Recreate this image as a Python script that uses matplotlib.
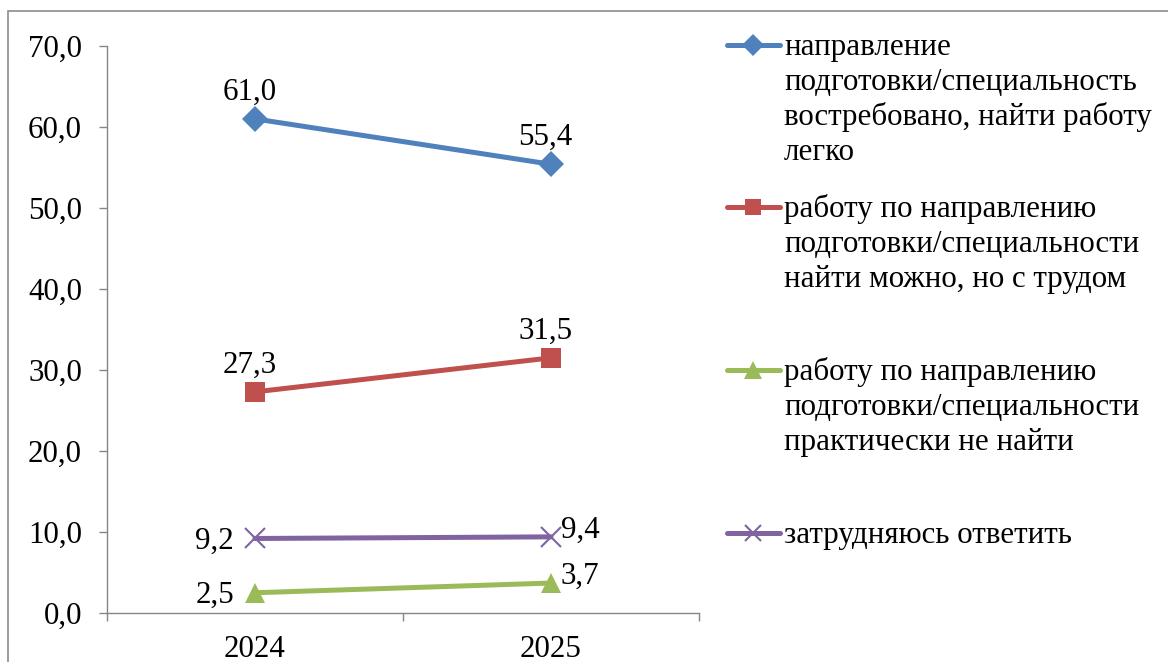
import matplotlib.pyplot as plt
from matplotlib.lines import Line2D
from matplotlib.patches import Rectangle
from matplotlib.ticker import FuncFormatter, FixedLocator

plt.rcParams['font.family'] = ['Liberation Serif', 'DejaVu Serif']

# Data
years = ['2024', '2025']
easy = [61.0, 55.4]
hard = [27.3, 31.5]
none_ = [2.5, 3.7]
dunno = [9.2, 9.4]
labels = [
    'направление\nподготовки/специальность\nвостребовано, найти работу\nлегко',
    'работу по направлению\nподготовки/специальности\nнайти можно, но с трудом',
    'работу по направлению\nподготовки/специальности\nпрактически не найти',
    'затрудняюсь ответить',
]

W, H = 1168, 662
fig = plt.figure(figsize=(W / 100, H / 100), dpi=100)
ax = fig.add_axes([107 / W, 1 - 613 / H, (699 - 107) / W, (613 - 46) / H])

fs = 22.3
series = [
    (easy, '#4F81BD', 'D', 13, 'above'),
    (hard, '#C0504D', 's', 14, 'above'),
    (none_, '#9BBB59', '^', 15, 'side'),
    (dunno, '#8064A2', 'x', 14, 'side'),
]
x = list(range(len(years)))
for vals, col, mk, ms, pos in series:
    ax.plot(x, vals, color=col, lw=3.6, marker=mk, ms=ms, mew=1.5 if mk == 'x' else 0,
            mec=col, mfc=col, clip_on=False, solid_capstyle='round')
    for i, v in enumerate(vals):
        txt = f'{v:.1f}'.replace('.', ',')
        if pos == 'above':
            ax.annotate(txt, (i, v), xytext=(-4, 14), textcoords='offset points',
                        ha='center', va='baseline', fontsize=fs)
        elif i == 0:
            ax.annotate(txt, (i, v), xytext=(-15, -2), textcoords='offset points',
                        ha='right', va='center', fontsize=fs)
        else:
            ax.annotate(txt, (i, v), xytext=(7, 5), textcoords='offset points',
                        ha='left', va='center', fontsize=fs)

ax.set_xlim(-0.5, 1.5)
ax.set_ylim(0, 70)
ax.set_yticks(range(0, 71, 10))
ax.yaxis.set_major_formatter(FuncFormatter(lambda v, p: f'{v:.1f}'.replace('.', ',')))
ax.set_xticks(x)
ax.set_xticklabels(years)
ax.xaxis.set_minor_locator(FixedLocator([-0.5, 0.5, 1.5]))
ax.tick_params(axis='x', which='major', length=0, pad=16, labelsize=fs)
ax.tick_params(axis='x', which='minor', length=6, width=1, color='#868686', direction='out')
ax.tick_params(axis='y', length=6, width=1, color='#868686', pad=12, labelsize=fs)
for s in ['top', 'right']:
    ax.spines[s].set_visible(False)
for s in ['left', 'bottom']:
    ax.spines[s].set_color('#868686')
    ax.spines[s].set_linewidth(1)

# legend drawn by hand, handle aligned to first text line
line_px = 35
leg_y = [55, 217, 380, 543]
for (vals, col, mk, ms, pos), lab, yb in zip(series, labels, leg_y):
    yh = 1 - (yb - 10) / H
    fig.add_artist(Line2D([727 / W, 780 / W], [yh, yh], color=col, lw=3.6,
                          solid_capstyle='round', transform=fig.transFigure))
    fig.add_artist(Line2D([753 / W], [yh], color=col, marker=mk, ms=ms * 0.85,
                          mew=1.5 if mk == 'x' else 0, mec=col, mfc=col,
                          transform=fig.transFigure))
    for k, ln in enumerate(lab.split('\n')):
        fig.text(784 / W, 1 - (yb + k * line_px) / H, ln, fontsize=fs,
                 ha='left', va='baseline')

fig.add_artist(Rectangle((8 / W, -0.1), 1.2, 1.1 - 11 / H, fill=False,
                         ec='#8c8c8c', lw=1.2, transform=fig.transFigure))

fig.savefig('out.png', dpi=100)
